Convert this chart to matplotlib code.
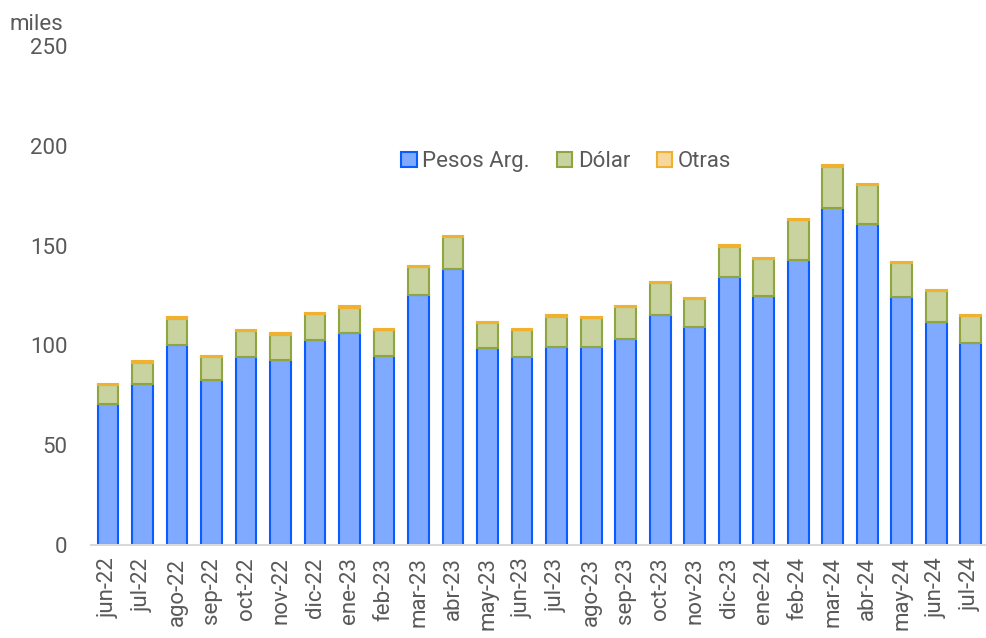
import matplotlib

matplotlib.use("Agg")
import matplotlib.pyplot as plt
import numpy as np

# Stacked monthly totals, in thousands ("miles").
months = [
    "jun-22", "jul-22", "ago-22", "sep-22", "oct-22", "nov-22", "dic-22",
    "ene-23", "feb-23", "mar-23", "abr-23", "may-23", "jun-23", "jul-23",
    "ago-23", "sep-23", "oct-23", "nov-23", "dic-23", "ene-24", "feb-24",
    "mar-24", "abr-24", "may-24", "jun-24", "jul-24",
]
pesos = [
    70.8, 80.8, 100.3, 82.7, 94.2, 92.9, 102.5, 106.2, 94.7, 125.2, 138.3,
    98.7, 94.0, 99.3, 99.2, 103.3, 115.3, 109.0, 134.3, 124.5, 142.8,
    168.7, 161.0, 124.2, 111.5, 101.0,
]
dolar = [
    9.2, 10.5, 13.0, 11.5, 13.0, 12.5, 13.0, 12.7, 12.8, 14.1, 15.9,
    12.5, 13.5, 15.0, 14.5, 15.9, 15.9, 14.2, 15.2, 18.8, 19.9,
    20.8, 19.2, 17.0, 15.5, 13.7,
]
otras = [
    0.7, 0.8, 0.7, 0.6, 0.6, 0.6, 0.8, 0.6, 0.7, 0.7, 0.6,
    0.6, 0.7, 0.7, 0.6, 0.6, 0.6, 0.6, 0.7, 0.7, 0.6,
    0.7, 0.8, 0.6, 0.7, 0.6,
]

plt.rcParams["font.family"] = ["Roboto", "DejaVu Sans"]
TXT = "#595959"
FS = 16

fig = plt.figure(figsize=(9.87, 6.38), dpi=100)
ax = fig.add_axes([0.092, 0.1458, 0.909, 0.7822])

x = np.arange(len(months))
p = np.array(pesos)
d = np.array(dolar)
o = np.array(otras)
w = 0.6
ax.bar(x, p, w, color="#80aaff", edgecolor="#0a5cff", linewidth=1.5, label="Pesos Arg.")
ax.bar(x, d, w, bottom=p, color="#c8d3a0", edgecolor="#8fa640", linewidth=1.5, label="Dólar")
ax.bar(x, o, w, bottom=p + d, color="#f8d89a", edgecolor="#f0b030", linewidth=1.5, label="Otras")

ax.set_xlim(-0.5, len(months) - 0.5)
ax.set_ylim(0, 250)
ax.set_yticks(range(0, 251, 50))
ax.set_xticks(x)
ax.set_xticklabels(months, rotation=90)
ax.tick_params(axis="both", length=0, labelsize=FS, colors=TXT)
ax.tick_params(axis="x", pad=9)
ax.tick_params(axis="y", pad=17)
for s in ("top", "right", "left"):
    ax.spines[s].set_visible(False)
ax.spines["bottom"].set_color("#d9d9d9")
ax.spines["bottom"].set_linewidth(1.5)

fig.text(0.010, 0.962, "miles", fontsize=FS, color=TXT, va="center", ha="left")

leg = ax.legend(
    loc="center",
    bbox_to_anchor=(0.53, 0.768),
    ncol=3,
    frameon=False,
    fontsize=FS,
    handlelength=0.7,
    handleheight=0.7,
    handletextpad=0.25,
    columnspacing=1.2,
)
for t in leg.get_texts():
    t.set_color(TXT)

fig.savefig("out.png", dpi=100)
